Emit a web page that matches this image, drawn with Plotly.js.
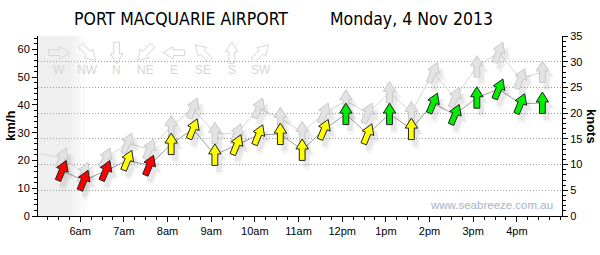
<!DOCTYPE html>
<html><head><meta charset="utf-8">
<script src="https://cdn.plot.ly/plotly-3.0.1.min.js"></script>
<style>html,body{margin:0;padding:0;background:#fff}#chart{width:600px;height:255px}</style>
</head><body><div id="chart"></div>
<script>
const day = '2013-11-04';
const titleStation = 'PORT MACQUARIE AIRPORT';
const titleDate = 'Monday, 4 Nov 2013';
const times = ['05:05','05:35','06:05','06:35','07:05','07:35','08:05','08:35','09:05','09:35','10:05','10:35',
               '11:05','11:35','12:05','12:35','13:05','13:35','14:05','14:35','15:05','15:35','16:05','16:35'];
const windKmh = [null,16.3,12.8,16.3,20.0,18.2,25.9,31.3,22.0,25.6,29.2,29.5,
                 23.8,31.1,36.7,29.5,36.7,31.3,40.6,36.5,42.6,45.7,40.4,40.7];
const gustKmh = [22.5,20.8,15.6,20.8,26.2,24.0,32.2,38.8,29.8,29.5,38.8,35.2,
                 30.1,37.0,41.5,37.0,44.5,37.3,51.6,42.6,53.8,58.9,49.4,51.9];
const windDir = [null,'SSW','SSW','SSW','SSW','SSW','S','SSW','S','SSW','SSW','S',
                 'S','SSW','S','SSW','S','S','SSW','SSW','S','SSW','SSW','S'];
const gustDir = [null,'SSW','SSW','SSW','SSW','SSW','S','SSW','S','SSW','SSW','S',
                 'S','SSW','S','SSW','S','S','SSW','SSW','S','SSW','SSW','S'];
const hourTicks = ['06:00','07:00','08:00','09:00','10:00','11:00','12:00','13:00','14:00','15:00','16:00'];
const hourLabels = ['6am','7am','8am','9am','10am','11am','12pm','1pm','2pm','3pm','4pm'];
const legendDirs = ['W','NW','N','NE','E','SE','S','SW'];
const axisStart = '05:02', axisEnd = '17:02';
const nightEnd = '05:48', fadeEnd = '06:12';
const KMH_PER_KNOT = 1.852;
const knotsMax = 35;

const compass = {N:0,NNE:22.5,NE:45,ENE:67.5,E:90,ESE:112.5,SE:135,SSE:157.5,S:180,SSW:202.5,SW:225,WSW:247.5,W:270,WNW:292.5,NW:315,NNW:337.5};
const ts = t => day + ' ' + t;
const toMs = t => { const [h,m] = t.split(':').map(Number); return Date.UTC(2013,10,4,h,m); };
const fmt = ms => new Date(ms).toISOString().replace('T',' ').slice(0,19);

const arrowPts = [[0,11],[6.2,1],[2.9,1],[2.9,-10.5],[-2.9,-10.5],[-2.9,1],[-6.2,1]];
function arrowPath(fromDir, dx, dy, scale) {
  const b = ((compass[fromDir] + 180) % 360) * Math.PI / 180;
  const c = Math.cos(b), s = Math.sin(b);
  return 'M' + arrowPts.map(([x,y]) => {
    x *= scale; y *= scale;
    const xr = x*c + y*s + dx, yr = -x*s + y*c + dy;
    return xr.toFixed(2) + ',' + yr.toFixed(2);
  }).join('L') + 'Z';
}
function arrowShape(xa, ya, dir, fill, lineColor, lineWidth, dx, dy, scale, refs) {
  return Object.assign({type:'path', xref:'x', yref:'y', xsizemode:'pixel', ysizemode:'pixel',
    xanchor: xa, yanchor: ya, path: arrowPath(dir, dx, dy, scale),
    fillcolor: fill, line:{color: lineColor, width: lineWidth}, layer:'above'}, refs || {});
}
function windColor(v) { const kt = v / KMH_PER_KNOT; return kt < 10 ? '#ff0000' : (kt < 18 ? '#ffff00' : '#00ee00'); }

const xDates = times.map(ts);
const shapes = [];

// night shading
shapes.push({type:'rect', xref:'x', yref:'paper', x0: ts(axisStart), x1: ts(nightEnd), y0:0, y1:1,
  fillcolor:'#efefef', line:{width:0}, layer:'below'});
const nStrips = 14, s0 = toMs(nightEnd), s1 = toMs(fadeEnd);
for (let i = 0; i < nStrips; i++) {
  const a = s0 + (s1 - s0) * i / nStrips, b2 = s0 + (s1 - s0) * (i + 1) / nStrips;
  const g = Math.round(239 + (255 - 239) * (i + 0.5) / nStrips);
  shapes.push({type:'rect', xref:'x', yref:'paper', x0: fmt(a), x1: fmt(b2), y0:0, y1:1,
    fillcolor:`rgb(${g},${g},${g})`, line:{width:0}, layer:'below'});
}

// gust arrows (shadow + arrow)
times.forEach((t,i) => {
  if (gustKmh[i] == null || gustDir[i] == null) return;
  shapes.push(arrowShape(ts(t), gustKmh[i], gustDir[i], 'rgba(0,0,0,0.035)', 'rgba(0,0,0,0)', 0, 5, -7, 1.25));
  shapes.push(arrowShape(ts(t), gustKmh[i], gustDir[i], 'rgba(0,0,0,0.05)', 'rgba(0,0,0,0)', 0, 4, -6, 1.05));
  shapes.push(arrowShape(ts(t), gustKmh[i], gustDir[i], '#e3e3e3', '#c8c8c8', 1, 0, 0, 1));
});
// wind arrows
times.forEach((t,i) => {
  if (windKmh[i] == null || windDir[i] == null) return;
  shapes.push(arrowShape(ts(t), windKmh[i], windDir[i], 'rgba(0,0,0,0.035)', 'rgba(0,0,0,0)', 0, 5, -7, 1.25));
  shapes.push(arrowShape(ts(t), windKmh[i], windDir[i], 'rgba(0,0,0,0.06)', 'rgba(0,0,0,0)', 0, 4, -6, 1.05));
  shapes.push(arrowShape(ts(t), windKmh[i], windDir[i], windColor(windKmh[i]), '#222', 1, 0, 0, 1));
});

// direction legend
const W = 600, L = 38, R = 38, T = 36, B = 39;
const pw = W - L - R, ph = 255 - T - B;
const annotations = [];
legendDirs.forEach((d,i) => {
  const px = 59 + i * 28.8;
  const xp = (px - L) / pw;
  shapes.push(arrowShape(xp, (216 - 52.7) / ph, d, 'rgba(255,255,255,0)', '#d6d6d6', 1, 0, 0, 1,
    {xref:'paper', yref:'paper'}));
  annotations.push({xref:'paper', yref:'paper', x: xp, y: (216 - 69.5) / ph, text: d, showarrow:false,
    xanchor:'center', yanchor:'middle', font:{family:'Liberation Sans, Arial', size:12, color:'#d6d6d6'}});
});

annotations.push({xref:'paper', yref:'paper', x:(72 - L)/pw, y: 1 + (36 - 19)/ph, text: titleStation, showarrow:false,
  xanchor:'left', yanchor:'middle', font:{family:'DejaVu Sans Condensed, DejaVu Sans', size:17.5, color:'#000'}});
annotations.push({xref:'paper', yref:'paper', x:(328 - L)/pw, y: 1 + (36 - 19)/ph, text: titleDate, showarrow:false,
  xanchor:'left', yanchor:'middle', font:{family:'DejaVu Sans Condensed, DejaVu Sans', size:17.5, color:'#000'}});
annotations.push({xref:'paper', yref:'paper', x:(10 - L)/pw, y:0.5, text:'<b>km/h</b>', showarrow:false, textangle:-90,
  xanchor:'center', yanchor:'middle', font:{family:'Liberation Sans, Arial', size:13, color:'#000'}});
annotations.push({xref:'paper', yref:'paper', x:(592 - L)/pw, y:0.5, text:'<b>knots</b>', showarrow:false, textangle:90,
  xanchor:'center', yanchor:'middle', font:{family:'Liberation Sans, Arial', size:13, color:'#000'}});
annotations.push({xref:'paper', yref:'paper', x:(555 - L)/pw, y:(216 - 205)/ph, text:'www.seabreeze.com.au', showarrow:false,
  xanchor:'right', yanchor:'middle', font:{family:'Liberation Sans, Arial', size:11.5, color:'#a9b2c4'}});

const tickFont = {family:'Liberation Sans, Arial', size:11, color:'#000'};
const traces = [
  {x: xDates, y: gustKmh, mode:'lines', line:{color:'#d6d6d6', width:1}, hoverinfo:'skip', yaxis:'y', connectgaps:false},
  {x: xDates, y: windKmh, mode:'lines', line:{color:'#a0a0a0', width:1}, hoverinfo:'skip', yaxis:'y', connectgaps:false},
  {x: xDates, y: gustKmh.map(v => v == null ? null : v / KMH_PER_KNOT), mode:'lines', line:{width:0, color:'rgba(0,0,0,0)'},
   hoverinfo:'skip', yaxis:'y2', showlegend:false}
];
const layout = {
  width: 600, height: 255, margin:{l:L, r:R, t:T, b:B}, showlegend:false,
  paper_bgcolor:'#fff', plot_bgcolor:'#fff',
  xaxis: {type:'date', range:[ts(axisStart), ts(axisEnd)], tickmode:'array', tickvals: hourTicks.map(ts), ticktext: hourLabels,
    ticks:'outside', ticklen:5, tickcolor:'#000', showline:true, linecolor:'#000', linewidth:1, showgrid:false, zeroline:false,
    tickfont: tickFont, minor:{dtick: 15*60*1000, ticklen:3, tickcolor:'#000', showgrid:false}},
  yaxis: {range:[0, knotsMax * KMH_PER_KNOT], dtick:10, tick0:0, ticks:'outside', ticklen:5, tickcolor:'#000',
    showline:true, linecolor:'#000', linewidth:1, showgrid:false, zeroline:false, tickfont: tickFont,
    minor:{dtick:2, ticklen:3, tickcolor:'#000', showgrid:false}},
  yaxis2: {overlaying:'y', side:'right', range:[0, knotsMax], dtick:5, tick0:0, ticks:'outside', ticklen:5, tickcolor:'#000',
    showline:true, linecolor:'#000', linewidth:1, showgrid:true, gridcolor:'#9a9a9a', griddash:'1px,2px', gridwidth:1,
    zeroline:false, tickfont: tickFont, minor:{dtick:1, ticklen:3, tickcolor:'#000', showgrid:false}},
  shapes: shapes, annotations: annotations
};
Plotly.newPlot('chart', traces, layout, {staticPlot:true, displayModeBar:false});
</script></body></html>
